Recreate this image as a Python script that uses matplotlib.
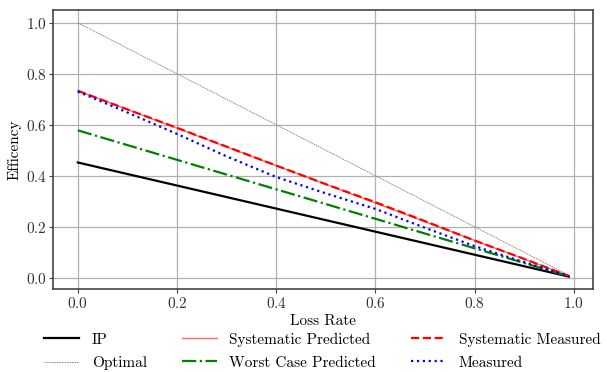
import matplotlib
matplotlib.use("Agg")
import matplotlib.pyplot as plt
import numpy as np

# data
loss_ends = [0.0, 0.99]
ip = [0.452, 0.0045]
optimal = [1.0, 0.01]
worst_case = [0.578, 0.0058]
sys_pred = [0.733, 0.0073]

loss_meas = [0.0, 0.1, 0.2, 0.3, 0.4, 0.5, 0.6, 0.7, 0.8, 0.9, 0.99]
sys_meas = [0.733, 0.66, 0.588, 0.514, 0.44, 0.367, 0.296, 0.222, 0.146, 0.074, 0.007]
measured = [0.73, 0.648, 0.564, 0.476, 0.395, 0.331, 0.27, 0.196, 0.124, 0.061, 0.006]

plt.rcParams['font.family'] = 'cmr10'
plt.rcParams['axes.formatter.use_mathtext'] = True
fs = 11

fig = plt.figure(figsize=(6.07, 3.72), dpi=100)
ax = fig.add_axes([0.0878, 0.2223, 0.8897, 0.7507])

l_ip, = ax.plot(loss_ends, ip, color='black', lw=1.6, label='IP')
l_opt, = ax.plot(loss_ends, optimal, color='gray', lw=0.6, ls=(0, (2, 1)), label='Optimal')
l_sp, = ax.plot(loss_ends, sys_pred, color='red', lw=1.0, alpha=0.6, label='Systematic Predicted')
l_wc, = ax.plot(loss_ends, worst_case, color='green', lw=1.6, ls='-.', label='Worst Case Predicted')
l_sm, = ax.plot(loss_meas, sys_meas, color='red', lw=1.6, ls='--', label='Systematic Measured')
l_m, = ax.plot(loss_meas, measured, color='blue', lw=1.6, ls=':', label='Measured')

ax.set_xticks([0.0, 0.2, 0.4, 0.6, 0.8, 1.0])
ax.set_yticks([0.0, 0.2, 0.4, 0.6, 0.8, 1.0])
ax.grid(True, color='#b0b0b0', lw=0.9)
ax.set_axisbelow(True)
for s in ax.spines.values():
    s.set_color('#444444')
    s.set_linewidth(1.2)
ax.tick_params(colors='#444444', labelcolor='#333333', labelsize=fs, length=3, pad=1.5)
ax.set_xlabel('Loss Rate', fontsize=fs, labelpad=3)
ax.set_ylabel('Efficency', fontsize=fs, labelpad=3)

fig.legend(handles=[l_ip, l_opt, l_sp, l_wc, l_sm, l_m], loc='center',
           bbox_to_anchor=(0.531, 0.056), ncol=3, frameon=False, fontsize=fs,
           columnspacing=2.3, handlelength=2.3, labelspacing=0.6, handletextpad=0.8)

fig.savefig('out.png', dpi=100)
